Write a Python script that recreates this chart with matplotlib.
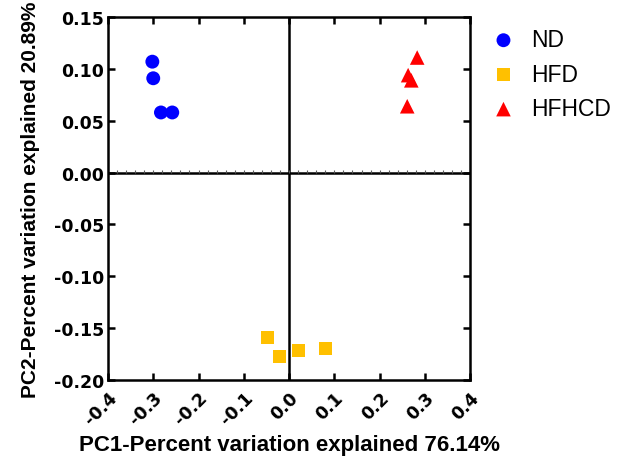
# -*- coding: utf-8 -*-

import matplotlib
matplotlib.use('Agg')
import matplotlib.pyplot as plt
import numpy as np

plt.rcParams['axes.unicode_minus'] = False

# PCA scores
groups = ['ND', 'HFD', 'HFHCD']
nd_pc1 = [-0.302, -0.300, -0.283, -0.258]
nd_pc2 = [0.107, 0.091, 0.058, 0.058]
hfd_pc1 = [-0.047, -0.022, 0.020, 0.081]
hfd_pc2 = [-0.159, -0.177, -0.172, -0.170]
hfhcd_pc1 = [0.283, 0.263, 0.270, 0.261]
hfhcd_pc2 = [0.111, 0.094, 0.089, 0.064]

x_ticks = [-0.4, -0.3, -0.2, -0.1, 0.0, 0.1, 0.2, 0.3, 0.4]
y_ticks = [-0.20, -0.15, -0.10, -0.05, 0.00, 0.05, 0.10, 0.15]

x_label = 'PC1-Percent variation explained 76.14%'
y_label = 'PC2-Percent variation explained 20.89%'

# styles for each group
styles = {
    'ND': dict(marker='o', color='#0000FF', s=100),
    'HFD': dict(marker='s', color='#FFC000', s=88),
    'HFHCD': dict(marker='^', color='#FF0000', s=110),
}
series = {
    'ND': (nd_pc1, nd_pc2),
    'HFD': (hfd_pc1, hfd_pc2),
    'HFHCD': (hfhcd_pc1, hfhcd_pc2),
}

fig = plt.figure(figsize=(6.17, 4.64), dpi=100, facecolor='white')
ax = fig.add_axes([0.175, 0.179, 0.587, 0.782])

frame_lw = 1.8

# zero lines crossing in the middle
ax.axhline(0, color='black', lw=frame_lw, zorder=1)
ax.axvline(0, color='black', lw=frame_lw, zorder=1)
# small minor ticks along the horizontal zero line
minor_x = np.arange(-0.4, 0.4001, 0.02)
ax.vlines(minor_x, 0, 0.0025, colors='0.35', lw=0.8, zorder=1)

for name in groups:
    xs, ys = series[name]
    st = styles[name]
    ax.scatter(xs, ys, marker=st['marker'], color=st['color'], s=st['s'],
               edgecolors='none', zorder=3, label=name)

ax.set_xlim(-0.4, 0.4)
ax.set_ylim(-0.2, 0.15)

ax.set_xticks(x_ticks)
ax.set_xticklabels(['%.1f' % v for v in x_ticks], rotation=45, ha='right',
                   va='top', rotation_mode='anchor',
                   family='DejaVu Sans', weight='bold', fontsize=12.5)
ax.set_yticks(y_ticks)
ax.set_yticklabels(['%.2f' % v for v in y_ticks],
                   family='DejaVu Sans', weight='bold', fontsize=12.5)

ax.tick_params(direction='in', top=True, right=True, length=5,
               width=frame_lw, pad=3)
ax.tick_params(axis='x', pad=6)

for sp in ax.spines.values():
    sp.set_linewidth(frame_lw)

ax.set_xlabel(x_label, family='Liberation Sans', weight='bold', fontsize=16,
              labelpad=4)
ax.set_ylabel(y_label, family='Liberation Sans', weight='bold', fontsize=15,
              labelpad=10)

leg = ax.legend(loc='upper left', bbox_to_anchor=(0.79, 0.937),
                bbox_transform=fig.transFigure, frameon=False,
                prop={'family': 'Liberation Sans', 'size': 16.5},
                handletextpad=0.5, labelspacing=0.5, borderpad=0,
                borderaxespad=0, handlelength=1.4)

plt.savefig('out.png', dpi=100, facecolor='white')
